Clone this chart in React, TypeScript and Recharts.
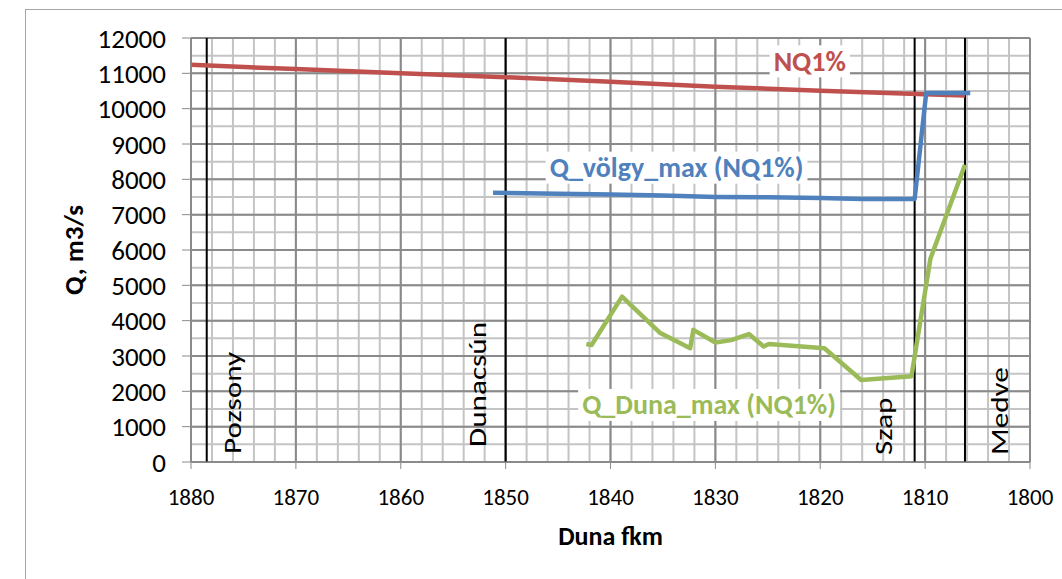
import { CartesianGrid, Line, LineChart, ReferenceDot, ReferenceLine, XAxis, YAxis } from 'recharts';

const FONT = 'Carlito, Lato, "Open Sans", sans-serif';

// axis ticks
const kmTicks = [1880, 1870, 1860, 1850, 1840, 1830, 1820, 1810, 1800];
const qTicks = [0, 1000, 2000, 3000, 4000, 5000, 6000, 7000, 8000, 9000, 10000, 11000, 12000];
const kmMinor = Array.from({length: 41}, (_, i) => 1800 + i * 2);
const qMinor = Array.from({length: 25}, (_, i) => i * 500);

// NQ1%
const nqKm = [1880, 1870, 1860, 1850, 1840, 1830, 1820, 1810, 1806.2];
const nqQ = [11240, 11120, 11000, 10890, 10760, 10620, 10510, 10410, 10370];

// Q_völgy_max (NQ1%)
const volgyKm = [1851.2, 1845, 1840, 1835, 1830, 1825, 1820, 1816, 1811.0, 1809.9, 1805.7];
const volgyQ = [7620, 7590, 7570, 7540, 7500, 7490, 7470, 7440, 7440, 10440, 10440];

// Q_Duna_max (NQ1%)
const dunaKm = [1842.3, 1841.8, 1838.9, 1835.3, 1832.4, 1832.1, 1830.0, 1828.5, 1826.8, 1825.4, 1824.9, 1819.6, 1816.1, 1811.3, 1809.5, 1806.2];
const dunaQ = [3340, 3310, 4680, 3660, 3220, 3740, 3380, 3450, 3620, 3270, 3340, 3220, 2320, 2430, 5750, 8410];

// stations (vertical lines)
const stationNames = ['Pozsony', 'Dunacsún', 'Szap', 'Medve'];
const stationKm = [1878.5, 1850.0, 1811.0, 1806.2];

// series labels, anchored in data units
const seriesNames = ['NQ1%', 'Q_völgy_max (NQ1%)', 'Q_Duna_max (NQ1%)'];
const labelKm = [1821.0, 1833.7, 1830.6];
const labelQ = [11340, 8330, 1615];

const colors = ['#C0504D', '#4F81BD', '#9BBB59'];
// baseline offset from line, offset from plot bottom
const stationOffsets = [[34, 8], [-20, 15], [-23, 7], [43, 7]];

const toRows = (km: number[], q: number[]) => km.map((k, i) => ({km: k, q: q[i]}));
const nqData = toRows(nqKm, nqQ);
const volgyData = toRows(volgyKm, volgyQ);
const dunaData = toRows(dunaKm, dunaQ);

const measure = (text: string, font: string) => {
    const ctx = document.createElement('canvas').getContext('2d');
    if (!ctx) return text.length * 15;
    ctx.font = font;
    return ctx.measureText(text).width;
};

const BoxLabel = ({cx, cy, text, color}: any) => {
    const fs = 28;
    const w = measure(text, `bold ${fs}px ${FONT}`) + 8;
    return (
        <g>
            <rect x={cx - w / 2} y={cy - 16} width={w} height={32} fill="#fff"/>
            <text x={cx} y={cy} textAnchor="middle" dominantBaseline="central" fontSize={fs}
                  fontWeight="bold" fill={color} fontFamily={FONT}>{text}</text>
        </g>
    );
};

// rotated station names; stretched along the text like the original picture
const stationLabel = (name: string, dx: number, dy: number) => (props: any) => {
    const {x, y, height} = props.viewBox;
    const bx = x + dx;
    const by = y + height - dy;
    return (
        <text x={0} y={0} transform={`translate(${bx}, ${by}) rotate(-90) scale(1.3, 1)`} fontSize={24}
              fill="#000" fontFamily={FONT}>{name}</text>
    );
};

const yTitle = (props: any) => {
    const {y, height} = props.viewBox;
    const cx = 73;
    const cy = y + height / 2;
    return (
        <text x={cx} y={cy} transform={`rotate(-90, ${cx}, ${cy})`} textAnchor="middle"
              dominantBaseline="central" fontSize={27} fontWeight="bold" fill="#000"
              fontFamily={FONT}>Q, m3/s</text>
    );
};

const xTitle = (props: any) => {
    const {x, width} = props.viewBox;
    return (
        <text x={x + width / 2} y={536} textAnchor="middle" dominantBaseline="central"
              fontSize={26} fontWeight="bold" fill="#000" fontFamily={FONT}>Duna fkm</text>
    );
};

const App = () => {
    return (
        <div style={{position: 'absolute', left: 0, top: 0, width: 1062, height: 579, overflow: 'hidden', background: '#fff', fontFamily: FONT}}>
            <div style={{position: 'absolute', left: 25, top: 9, width: 1100, height: 700, border: '1px solid #a6a6a6'}}/>
            <div style={{position: 'absolute', left: 0, top: 0}}>
                <LineChart width={1062} height={579} margin={{top: 38, right: 32, left: 0, bottom: 67}}>
                    <CartesianGrid stroke="#c4c4c4" strokeWidth={2} horizontalValues={qMinor}
                                   verticalValues={kmMinor}/>
                    <CartesianGrid stroke="#8a8a8a" strokeWidth={2} horizontalValues={qTicks}
                                   verticalValues={kmTicks}/>
                    <XAxis type="number" dataKey="km" domain={[1800, 1880]} ticks={kmTicks} reversed
                           allowDataOverflow height={50} tickSize={7} tickMargin={20} interval={0}
                           axisLine={{stroke: '#8a8a8a'}} tickLine={{stroke: '#8a8a8a'}}
                           tick={{fill: '#000', fontSize: 23}} label={{content: xTitle}}/>
                    <YAxis type="number" dataKey="q" domain={[0, 12000]} ticks={qTicks} width={191}
                           tickSize={9} tickMargin={16} interval={0} axisLine={{stroke: '#8a8a8a'}}
                           tickLine={{stroke: '#8a8a8a'}} tick={{fill: '#000', fontSize: 27}}
                           label={{content: yTitle}}/>
                    {stationNames.map((name, i) => (
                        <ReferenceLine key={name} x={stationKm[i]} stroke="#000" strokeWidth={2}
                                       label={{content: stationLabel(name, stationOffsets[i][0], stationOffsets[i][1])}}/>
                    ))}
                    <Line data={nqData} dataKey="q" stroke={colors[0]} strokeWidth={4.5} dot={false}
                          isAnimationActive={false} strokeLinejoin="round"/>
                    <Line data={volgyData} dataKey="q" stroke={colors[1]} strokeWidth={4.5} dot={false}
                          isAnimationActive={false} strokeLinejoin="round"/>
                    <Line data={dunaData} dataKey="q" stroke={colors[2]} strokeWidth={4.5} dot={false}
                          isAnimationActive={false} strokeLinejoin="round"/>
                    {seriesNames.map((name, i) => (
                        <ReferenceDot key={name} x={labelKm[i]} y={labelQ[i]} r={1}
                                      shape={(p: any) => <BoxLabel cx={p.cx} cy={p.cy} text={name} color={colors[i]}/>}/>
                    ))}
                </LineChart>
            </div>
        </div>
    );
};

export default App;
